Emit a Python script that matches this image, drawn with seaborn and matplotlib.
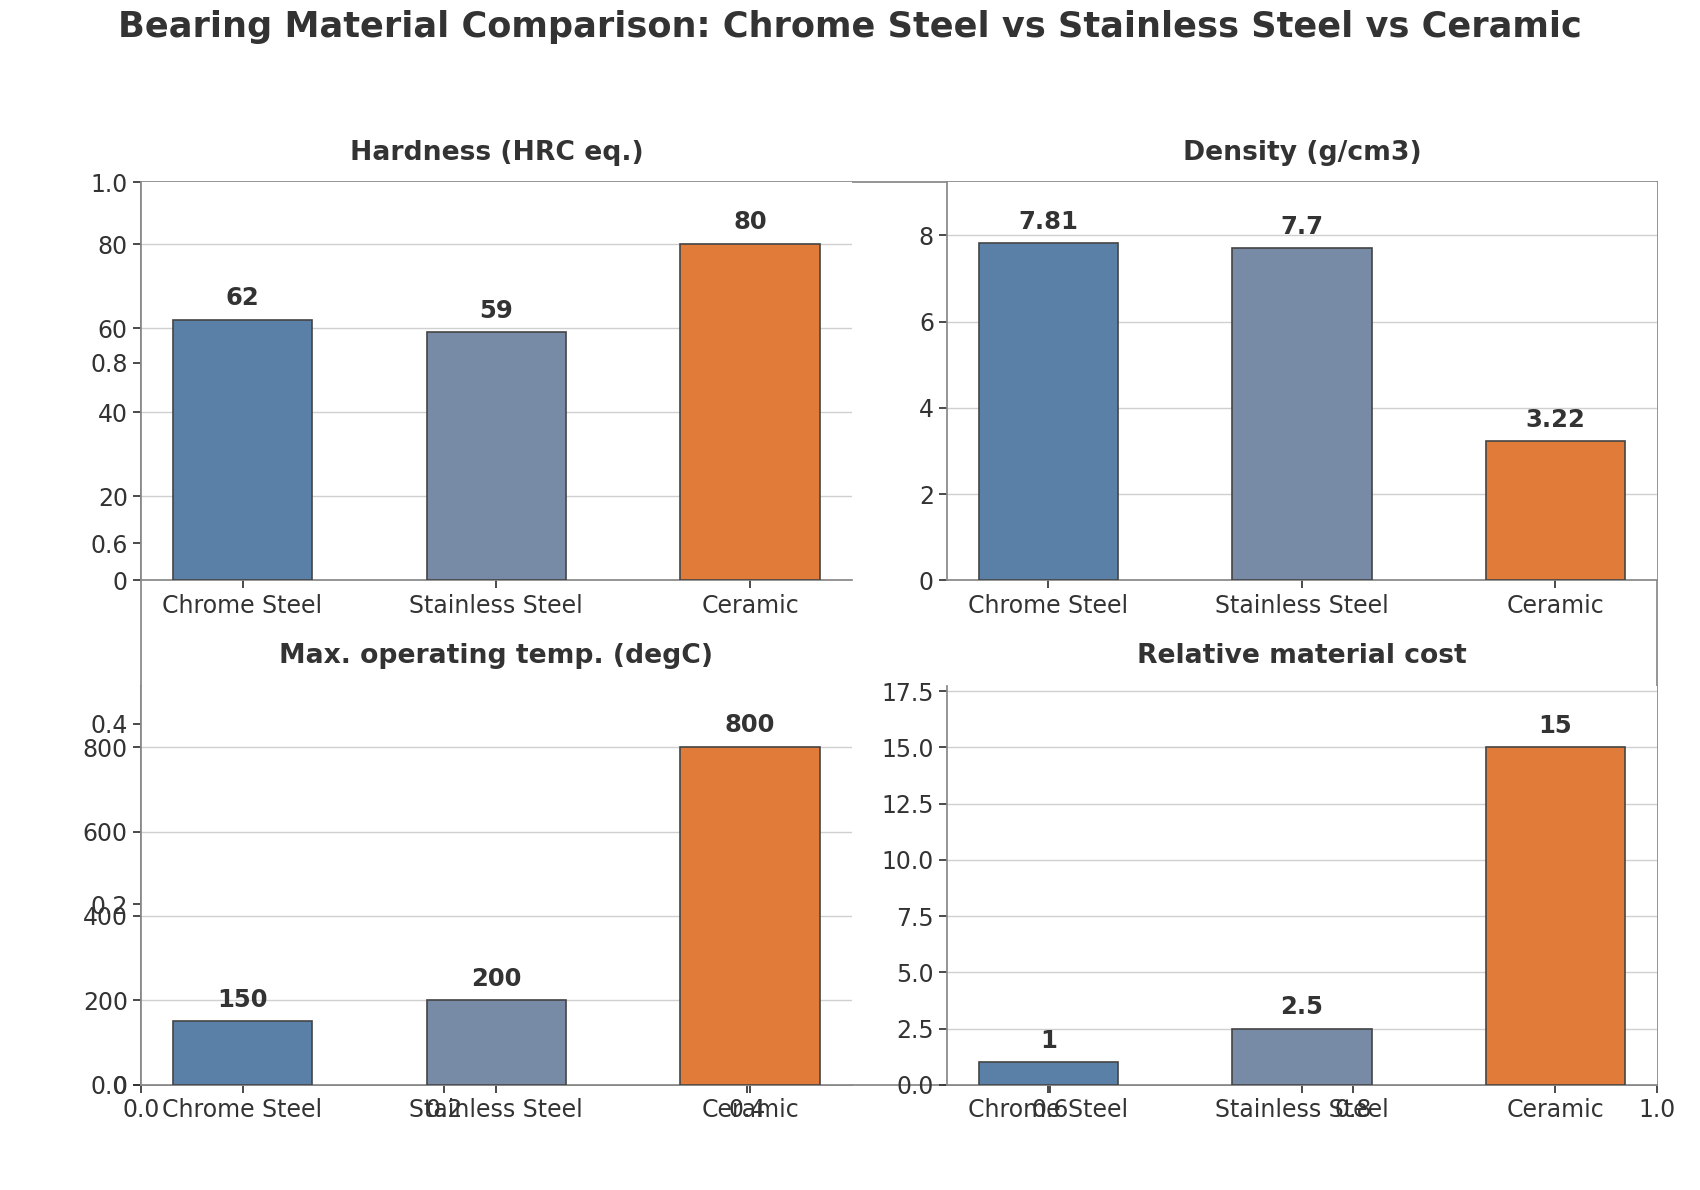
import matplotlib
matplotlib.use("Agg")
import matplotlib.pyplot as plt
from matplotlib.ticker import MultipleLocator, FormatStrFormatter
import seaborn as sns
import pandas as pd

materials = ["Chrome Steel", "Stainless Steel", "Ceramic"]
hardness = [62, 59, 80]
density = [7.81, 7.7, 3.22]
max_temp = [150, 200, 800]
rel_cost = [1, 2.5, 15]
titles = ["Hardness (HRC eq.)", "Density (g/cm3)", "Max. operating temp. (degC)", "Relative material cost"]
labels = [["62", "59", "80"], ["7.81", "7.7", "3.22"], ["150", "200", "800"], ["1", "2.5", "15"]]
colors = ["#5a80a8", "#788ba6", "#e07b39"]

sns.set_theme(style="whitegrid")
plt.rcParams["font.family"] = ["DejaVu Sans"]
plt.rcParams.update({"axes.edgecolor": "#888888", "text.color": "#333333",
                     "xtick.color": "#333333", "ytick.color": "#333333",
                     "xtick.labelsize": 17, "ytick.labelsize": 17,
                     "xtick.bottom": True, "ytick.left": True,
                     "xtick.major.size": 6, "ytick.major.size": 6,
                     "grid.color": "#d0d0d0"})

fig = plt.figure(figsize=(17, 11.9), dpi=100)
W, H = 1567, 1097
def pos(l, t, r, b):
    return [l / W, 1 - b / H, (r - l) / W, (b - t) / H]

bg = fig.add_axes(pos(130, 168, 1527, 1000))
bg.grid(False)

boxes = [(130, 168, 785, 535), (873, 168, 1527, 535), (130, 632, 785, 1000), (873, 632, 1527, 1000)]
series = [hardness, density, max_temp, rel_cost]
ylims = [94.7, 9.23, 946, 17.75]
for i, (box, vals) in enumerate(zip(boxes, series)):
    ax = fig.add_axes(pos(*box))
    df = pd.DataFrame({"Material": materials, "Value": vals})
    sns.barplot(data=df, x="Material", y="Value", hue="Material", palette=colors,
                legend=False, width=0.55, saturation=1, edgecolor="#444444",
                linewidth=1.2, ax=ax, zorder=3)
    ax.set_xlabel("")
    ax.set_ylabel("")
    ax.set_title(titles[i], fontsize=19.2, fontweight="bold", pad=16)
    ax.grid(axis="x", visible=False)
    ax.set_axisbelow(True)
    ax.set_xlim(-0.4, 2.4)
    ax.set_ylim(0, ylims[i])
    if i == 3:
        ax.yaxis.set_major_locator(MultipleLocator(2.5))
        ax.yaxis.set_major_formatter(FormatStrFormatter("%.1f"))
    for p, lab in zip(ax.patches, labels[i]):
        ax.annotate(lab, (p.get_x() + p.get_width() / 2, p.get_height()),
                    xytext=(0, 7), textcoords="offset points", ha="center", va="bottom",
                    fontsize=17.5, fontweight="bold", color="#333333")
    for s in ["top", "right"]:
        ax.spines[s].set_visible(False)

fig.text(783 / W, 1 - 25 / H, "Bearing Material Comparison: Chrome Steel vs Stainless Steel vs Ceramic",
         ha="center", va="center", fontsize=25.3, fontweight="bold", color="#333333")
fig.savefig("out.png", dpi=100)
